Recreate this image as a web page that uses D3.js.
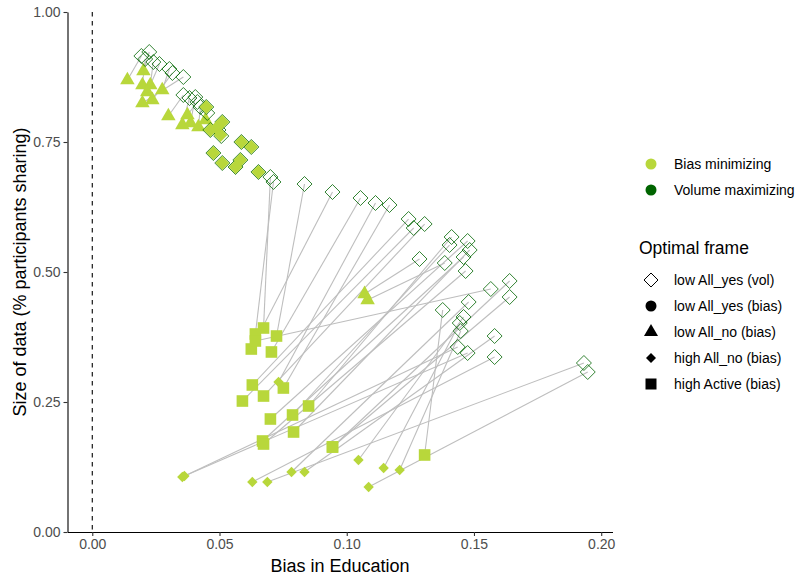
<!DOCTYPE html>
<html><head><meta charset="utf-8">
<script src="https://cdn.jsdelivr.net/npm/d3@7"></script>
<style>
body{margin:0;background:#fff}
text{font-family:"Liberation Sans",Arial,sans-serif}
</style>
</head><body>
<svg id="chart" width="798" height="579"></svg>
<script>
// Volume-maximizing optimum (bias in education, share of participants)
const volX = [0.0700,0.0712,0.0834,0.0944,0.1054,0.1113,0.1168,0.1243,0.1263,0.1306,
  0.1286,0.1385,0.1412,0.1404,0.1475,0.1483,0.1459,0.1467,0.1640,0.1566,
  0.1640,0.1479,0.1377,0.1459,0.1444,0.1448,0.1581,0.1436,0.1475,0.1581,
  0.1932,0.1947,
  0.0224,0.0193,0.0208,0.0240,0.0264,0.0303,0.0315,0.0358,0.0358,0.0382,
  0.0405,0.0413,0.0425,0.0452,
  0.0496,0.0507,
  0.0448,0.0511,0.0464,0.0586,0.0625,0.0476,0.0511,0.0582,0.0563,0.0653];
const volY = [0.6827,0.6731,0.6692,0.6538,0.6423,0.6327,0.6288,0.6019,0.5846,0.5923,
  0.5250,0.5173,0.5673,0.5519,0.5596,0.5423,0.5288,0.5019,0.4827,0.4673,
  0.4519,0.4423,0.4269,0.4135,0.4019,0.3865,0.3769,0.3558,0.3442,0.3365,
  0.3250,0.3077,
  0.9231,0.9154,0.9096,0.9038,0.9000,0.8904,0.8827,0.8750,0.8404,0.8346,
  0.8365,0.8269,0.8173,0.8058,
  0.7731,0.7615,
  0.8173,0.7885,0.7731,0.7500,0.7404,0.7288,0.7096,0.7154,0.7019,0.6923];
// Bias-minimizing optimum for the same scenario
const biasX = [0.0673,0.0641,0.0724,0.0625,0.0704,0.0732,0.0751,0.0629,0.0590,0.0673,
  0.1070,0.1082,0.0850,0.0787,0.0700,0.0791,0.0669,0.0673,0.0944,0.0641,
  0.0944,0.0783,0.1306,0.1046,0.1145,0.1208,0.0834,0.0354,0.0362,0.0629,
  0.0688,0.1086,
  0.0201,0.0138,0.0197,0.0228,0.0216,0.0275,0.0236,0.0197,0.0299,0.0354,
  0.0386,0.0374,0.0417,0.0445,
  0.0488,0.0504,
  0.0448,0.0511,0.0464,0.0586,0.0625,0.0476,0.0511,0.0582,0.0563,0.0653];
const biasY = [0.3923,0.3808,0.3769,0.3519,0.3462,0.2885,0.2769,0.2827,0.2519,0.2615,
  0.4577,0.4462,0.2423,0.2250,0.2173,0.1923,0.1750,0.1692,0.1635,0.3673,
  0.1635,0.1154,0.1481,0.1385,0.1231,0.1192,0.1154,0.1058,0.1077,0.0962,
  0.0962,0.0865,
  0.8865,0.8692,0.8596,0.8596,0.8462,0.8500,0.8308,0.8250,0.8000,0.7827,
  0.7865,0.8019,0.7788,0.7923,
  0.7769,0.7635,
  0.8173,0.7885,0.7731,0.7500,0.7404,0.7288,0.7096,0.7154,0.7019,0.6923];
// frame codes: V = low All_yes (vol), T = low All_no (bias), D = high All_no (bias), S = high Active (bias)
const biasFrame = ["S","S","S","S","S","D","S","S","S","S",
  "T","T","S","S","S","S","S","S","S","S",
  "S","D","S","D","D","D","D","D","D","D",
  "D","D",
  "T","T","T","T","T","T","T","T","T","T",
  "T","T","T","T",
  "V","V",
  "V","V","V","V","V","V","V","V","V","V"];

const xTicks = [0, 0.05, 0.10, 0.15, 0.20];
const yTicks = [0, 0.25, 0.50, 0.75, 1.00];
const colorNames = ["Bias minimizing", "Volume maximizing"];
const colorValues = ["#b8d73b", "#006400"];
const frameNames = ["low All_yes (vol)", "low All_yes (bias)", "low All_no (bias)", "high All_no (bias)", "high Active (bias)"];
const frameKeys = ["V", "C", "T", "D", "S"];

const svg = d3.select("#chart");
const pLeft = 67.5, pRight = 612.5, pTop = 12, pBottom = 532;

const xMax = d3.max(volX.concat(biasX)), xMin = 0;
const pad = (xMax - xMin) * 0.05;
const x = d3.scaleLinear().domain([xMin - pad, xMax + pad]).range([pLeft, pRight]);
const y = d3.scaleLinear().domain([0, 1]).range([pBottom, pTop]);
const color = d3.scaleOrdinal().domain(colorNames).range(colorValues);

// custom shapes (size = characteristic radius in px)
const shapes = {
  V: {draw(c, r){ c.moveTo(0,-r); c.lineTo(r,0); c.lineTo(0,r); c.lineTo(-r,0); c.closePath(); }},
  D: {draw(c, r){ c.moveTo(0,-r); c.lineTo(r,0); c.lineTo(0,r); c.lineTo(-r,0); c.closePath(); }},
  S: {draw(c, r){ c.rect(-r,-r,2*r,2*r); }},
  T: {draw(c, a){ const h=a*Math.sqrt(3)/2; c.moveTo(0,-2*h/3); c.lineTo(a/2,h/3); c.lineTo(-a/2,h/3); c.closePath(); }},
  C: {draw(c, r){ c.moveTo(r,0); c.arc(0,0,r,0,2*Math.PI); c.closePath(); }}
};
const shapeSize = {V: 7.5, D: 5.2, S: 5.8, T: 14.5, C: 5.5};
const sym = (k, s) => d3.symbol().type(shapes[k]).size(s || shapeSize[k])();

// dashed vertical reference at 0
svg.append("line").attr("x1", x(0)).attr("x2", x(0)).attr("y1", y(1)).attr("y2", y(0))
  .attr("stroke", "#000").attr("stroke-width", 1.1).attr("stroke-dasharray", "4.5,4.5");

const pairs = volX.map((vx, i) => ({vx, vy: volY[i], bx: biasX[i], by: biasY[i], f: biasFrame[i]}));

// segments
svg.append("g").selectAll("line").data(pairs).join("line")
  .attr("x1", d => x(d.vx)).attr("y1", d => y(d.vy))
  .attr("x2", d => x(d.bx)).attr("y2", d => y(d.by))
  .attr("stroke", "#bebebe").attr("stroke-width", 1.1);

// bias-minimizing points (other frames)
svg.append("g").selectAll("path").data(pairs.filter(d => d.f !== "V")).join("path")
  .attr("transform", d => `translate(${x(d.bx)},${y(d.by)})`)
  .attr("d", d => sym(d.f))
  .attr("fill", color("Bias minimizing"));

// volume-maximizing points
svg.append("g").selectAll("path").data(pairs).join("path")
  .attr("transform", d => `translate(${x(d.vx)},${y(d.vy)})`)
  .attr("d", sym("V"))
  .attr("fill", "none").attr("stroke", color("Volume maximizing")).attr("stroke-width", 0.8);

// bias-minimizing points whose optimal frame equals the volume frame (filled, over the outline)
svg.append("g").selectAll("path").data(pairs.filter(d => d.f === "V")).join("path")
  .attr("transform", d => `translate(${x(d.bx)},${y(d.by)})`)
  .attr("d", sym("V", 6.9))
  .attr("fill", color("Bias minimizing"));

// axes
const xAxis = svg.append("g").attr("transform", `translate(0,${pBottom})`)
  .call(d3.axisBottom(x).tickValues(xTicks).tickFormat(d3.format(".2f")).tickSizeInner(4).tickSizeOuter(0).tickPadding(3));
const yAxis = svg.append("g").attr("transform", `translate(${pLeft},0)`)
  .call(d3.axisLeft(y).tickValues(yTicks).tickFormat(d3.format(".2f")).tickSizeInner(4).tickSizeOuter(0).tickPadding(3));
[xAxis, yAxis].forEach(g => {
  g.select(".domain").attr("stroke", "#000").attr("stroke-width", 1.1);
  g.selectAll(".tick line").attr("stroke", "#333").attr("stroke-width", 1.1);
  g.selectAll(".tick text").attr("fill", "#4d4d4d").style("font-size", "14px")
    .style("font-family", '"Liberation Sans",Arial,sans-serif');
});

svg.append("text").attr("x", (pLeft + pRight) / 2).attr("y", 572).attr("text-anchor", "middle")
  .style("font-size", "18px").attr("fill", "#000").text("Bias in Education");
svg.append("text").attr("transform", `translate(26,${(pTop + pBottom) / 2}) rotate(-90)`)
  .attr("text-anchor", "middle").style("font-size", "18px").attr("fill", "#000")
  .text("Size of data (% participants sharing)");

// colour legend
const lg1 = svg.append("g");
colorNames.forEach((n, i) => {
  const cy = 164 + i * 26;
  lg1.append("circle").attr("cx", 651).attr("cy", cy).attr("r", 5.5).attr("fill", color(n));
  lg1.append("text").attr("x", 674).attr("y", cy).attr("dy", "0.35em").style("font-size", "14px").text(n);
});

// shape legend
const lg2 = svg.append("g");
lg2.append("text").attr("x", 639).attr("y", 248).attr("dy", "0.35em").style("font-size", "17.5px").text("Optimal frame");
const legendSize = {V: 7, C: 5.5, T: 14, D: 5, S: 5.5};
frameNames.forEach((n, i) => {
  const cy = 280 + i * 26, k = frameKeys[i];
  const p = lg2.append("path").attr("transform", `translate(651,${cy})`)
    .attr("d", d3.symbol().type(shapes[k]).size(legendSize[k])());
  if (k === "V") p.attr("fill", "none").attr("stroke", "#000").attr("stroke-width", 1);
  else p.attr("fill", "#000");
  lg2.append("text").attr("x", 674).attr("y", cy).attr("dy", "0.35em").style("font-size", "14px").text(n);
});
</script>
</body></html>
